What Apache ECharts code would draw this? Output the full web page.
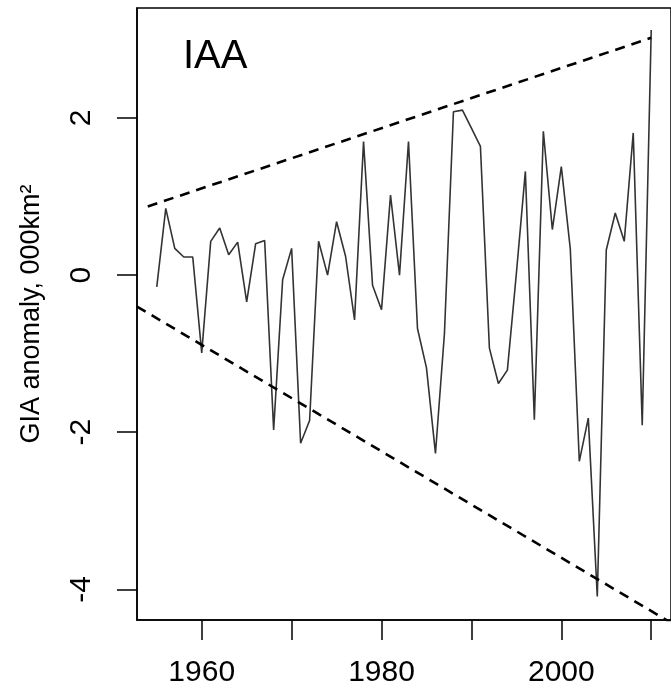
<!DOCTYPE html>
<html>
<head>
<meta charset="utf-8">
<script src="https://cdn.jsdelivr.net/npm/echarts@6/dist/echarts.min.js"></script>
<style>html,body{margin:0;padding:0;background:#fff}#c{width:671px;height:697px}</style>
</head>
<body>
<div id="c"></div>
<script>
// ---- data ----
const years = [1955,1956,1957,1958,1959,1960,1961,1962,1963,1964,1965,1966,1967,1968,1969,
  1970,1971,1972,1973,1974,1975,1976,1977,1978,1979,1980,1981,1982,1983,1984,1985,1986,1987,
  1988,1989,1990,1991,1992,1993,1994,1995,1996,1997,1998,1999,2000,2001,2002,2003,2004,2005,
  2006,2007,2008,2009,2010];
const anomaly = [-0.15,0.85,0.34,0.23,0.23,-0.99,0.43,0.60,0.26,0.42,-0.34,0.40,0.44,-1.97,-0.06,
  0.34,-2.14,-1.85,0.43,0.00,0.68,0.24,-0.57,1.70,-0.13,-0.44,1.02,0.00,1.70,-0.68,-1.18,-2.27,-0.74,
  2.08,2.10,1.87,1.64,-0.93,-1.38,-1.21,0.02,1.32,-1.84,1.83,0.58,1.38,0.33,-2.37,-1.82,-4.09,0.32,
  0.79,0.43,1.81,-1.91,3.12];
const upperYears = [1954, 2010];
const upperVals = [0.874, 3.02];
const lowerYears = [1952.8, 2012.2];
const lowerVals = [-0.40, -4.425];
const xTicks = [1960,1970,1980,1990,2000,2010];
const xLabels = [1960,1980,2000];
const yTicks = [-4,-2,0,2];
const panelLabel = 'IAA';
const yTitle = 'GIA anomaly, 000km\u00B2';

const FONT = 'Liberation Sans, Arial, sans-serif';
const chart = echarts.init(document.getElementById('c'), null, {renderer:'canvas'});
chart.setOption({
  backgroundColor:'#fff',
  animation:false,
  title:{text:panelLabel,left:178,top:32,textStyle:{fontFamily:FONT,fontSize:40,fontWeight:'normal',color:'#000'}},
  grid:{left:137,top:8,width:536,height:612,show:true,borderColor:'#000',borderWidth:1.5,backgroundColor:'transparent'},
  xAxis:{type:'value',min:1952.8,max:2012.2,
    axisLine:{show:true,onZero:false,lineStyle:{color:'#000',width:1.5}},
    axisTick:{show:true,inside:false,length:20,customValues:xTicks,lineStyle:{color:'#000',width:1.5}},
    axisLabel:{customValues:xLabels,margin:38,fontFamily:FONT,fontSize:30,color:'#000',formatter:v=>String(v)},
    splitLine:{show:false}},
  yAxis:{type:'value',min:-4.39,max:3.40,
    name:yTitle,nameLocation:'middle',nameGap:92,nameRotate:90,
    nameTextStyle:{fontFamily:FONT,fontSize:27,color:'#000'},
    axisLine:{show:true,onZero:false,lineStyle:{color:'#000',width:1.5}},
    axisTick:{show:true,inside:false,length:20,customValues:yTicks,lineStyle:{color:'#000',width:1.5}},
    axisLabel:{customValues:yTicks,rotate:90,margin:40,fontFamily:FONT,fontSize:30,color:'#000',formatter:v=>String(v)},
    splitLine:{show:false}},
  series:[
    {type:'line',data:years.map((y,i)=>[y,anomaly[i]]),showSymbol:false,symbol:'none',
      lineStyle:{color:'#333',width:1.6},clip:true},
    {type:'line',data:upperYears.map((y,i)=>[y,upperVals[i]]),showSymbol:false,symbol:'none',
      lineStyle:{color:'#000',width:2.6,type:[10,7]},clip:true},
    {type:'line',data:lowerYears.map((y,i)=>[y,lowerVals[i]]),showSymbol:false,symbol:'none',
      lineStyle:{color:'#000',width:2.6,type:[10,7]},clip:true}
  ]
});
</script>
</body>
</html>
